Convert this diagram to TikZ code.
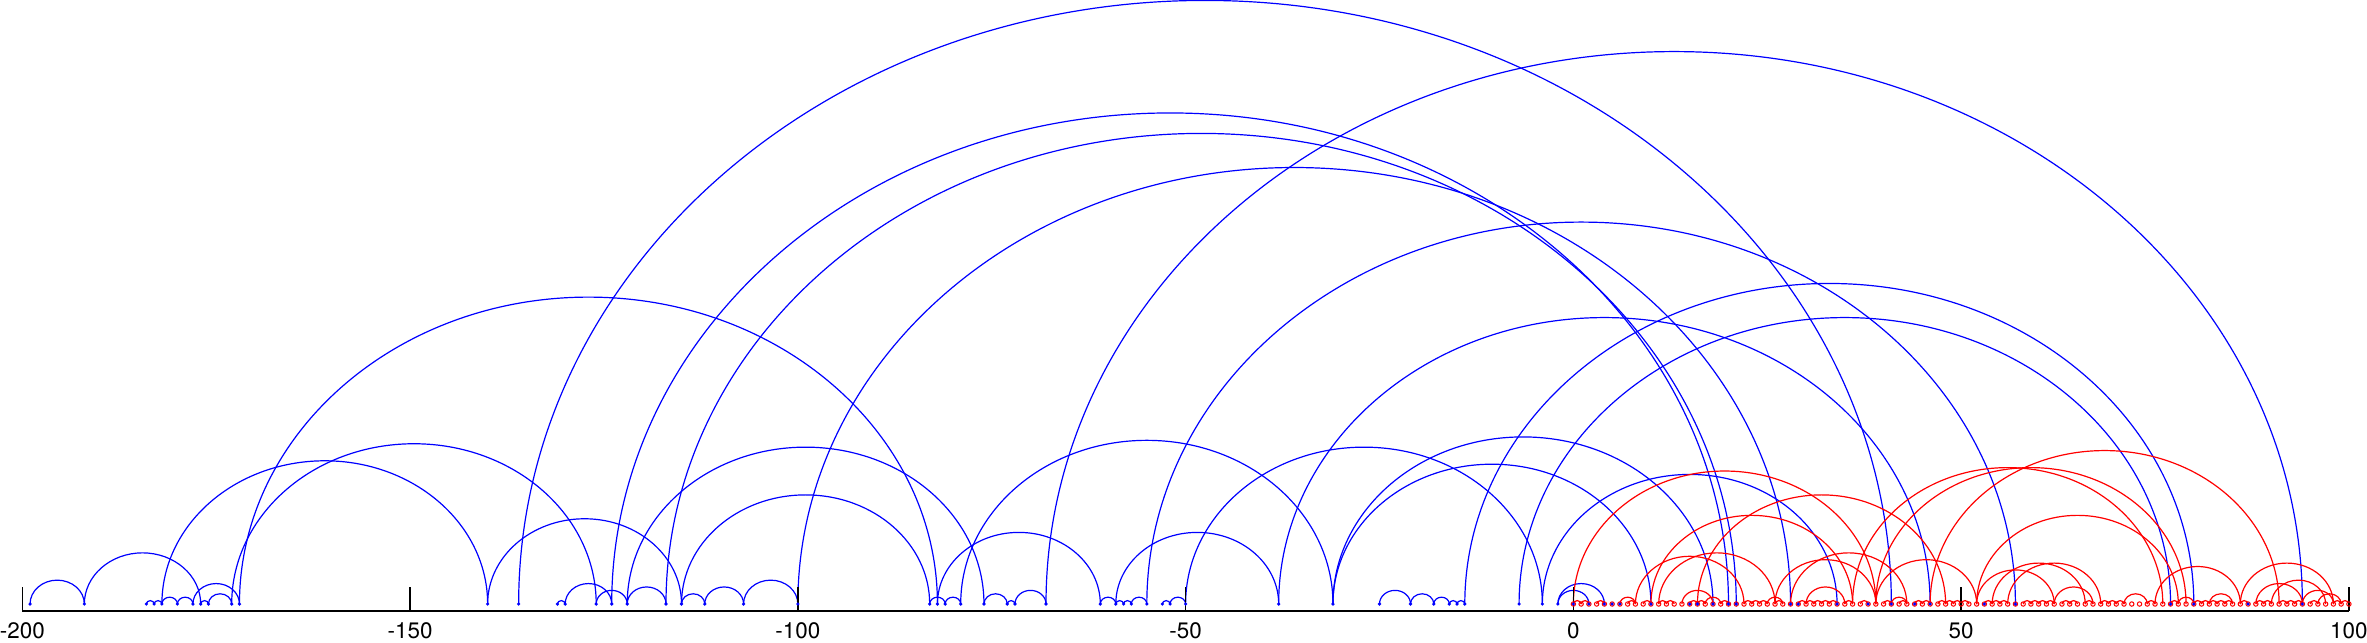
\documentclass[tikz,border=0pt]{standalone}
\usepackage{fontspec}
\setmainfont{TeX Gyre Heros}
\begin{document}
\begin{tikzpicture}[x=1.93875pt,y=0.25pt,
  bluearc/.style={blue,line width=0.3pt},
  redarc/.style={red,line width=0.3pt},
  axisline/.style={black,line width=0.35pt},
  redmark/.style={red,line width=0.25pt},
  bluemark/.style={blue},
  ticklabel/.style={font=\fontsize{5.6}{6.5}\selectfont,inner sep=0pt}]
\useasboundingbox (-202.88,-38) rectangle (102.33,604);
\foreach \i in {-200,...,100} \coordinate (p\i) at (\i,0);
% blue arcs
\foreach \a/\b in {-199/-192,-192/-177,-184/-183,-183/-182,-182/-180,-180/-178,-178/-172,-177/-176,-176/-173,
  -182/-140,-173/-126,-172/-82,-140/-115,-136/41,-131/-130,-130/-124,-126/-122,-122/-117,-124/20,-117/21,
  -122/-76,-115/-112,-112/-107,-107/-100,-115/-83,-100/28,-83/-81,-81/-79,-82/-61,-79/-31,-76/-73,-73/-72,
  -72/-68,-68/94,-61/-59,-59/-58,-58/-57,-57/-55,-59/-38,-55/57,-53/-52,-52/-50,-50/-4,-38/46,-31/18,-31/10,
  -25/-21,-21/-18,-18/-16,-16/-15,-15/-14,-14/80,-7/77,-4/34,-2/2,-2/4}
  \draw[bluearc] (p\a) arc[start angle=180,end angle=0,x radius={((\b)-(\a))*0.969375pt},y radius={((\b)-(\a))*0.8525pt}];
% red arcs
\foreach \a/\b in {0/39,10/36,16/48,8/22,11/26,26/39,28/43,39/52,36/76,39/79,46/91,52/78,52/62,54/66,56/68,62/67,
  75/86,86/98,88/94,90/97,94/98,96/99,82/85,71/74,14/18,30/35,6/8,17/19,25/27,41/43,78/80,
  0/1,1/2,3/4,7/8,9/10,11/12,12/13,15/16,16/17,19/20,22/23,23/24,24/25,26/27,29/30,30/31,31/32,32/33,33/34,
  35/36,37/38,40/41,42/43,44/45,45/46,47/48,48/49,49/50,50/51,53/54,54/55,55/56,58/59,59/60,60/61,61/62,
  63/64,64/65,66/67,68/69,69/70,70/71,74/75,77/78,80/81,81/82,82/83,83/84,84/85,86/87,88/89,89/90,91/92,
  92/93,93/94,95/96,98/99,99/100}
  \draw[redarc] (p\a) arc[start angle=180,end angle=0,x radius={((\b)-(\a))*0.969375pt},y radius={((\b)-(\a))*0.8525pt}];
% axis
\foreach \t in {-200,-150,...,100} {
  \coordinate (tb\t) at (\t,-7);
  \coordinate (tt\t) at (\t,17.3);
  \draw[axisline] (tb\t) -- (tt\t);
  \node[ticklabel] (lab\t) at (\t,-27) {\t};
}
\draw[axisline] (tb-200) -- (tb100);
% markers
\foreach \i in {0,...,100} \draw[redmark] (p\i) circle[radius=0.55pt];
\foreach \i in {-199,-192,-184,-183,-182,-180,-178,-177,-176,-173,-172,-140,-136,-131,-130,-126,-124,-122,-117,-115,
  -112,-107,-100,-83,-82,-81,-79,-76,-73,-72,-68,-61,-59,-58,-57,-55,-53,-52,-50,-38,-31,-25,-21,-18,-16,-15,-14,
  -7,-4,-2,0,2,4,5,6,10,15,16,18,20,21,28,29,34,38,41,44,46,53,57,77,80,87,94}
  \fill[bluemark] (p\i) circle[radius=0.45pt];
\end{tikzpicture}
\end{document}
